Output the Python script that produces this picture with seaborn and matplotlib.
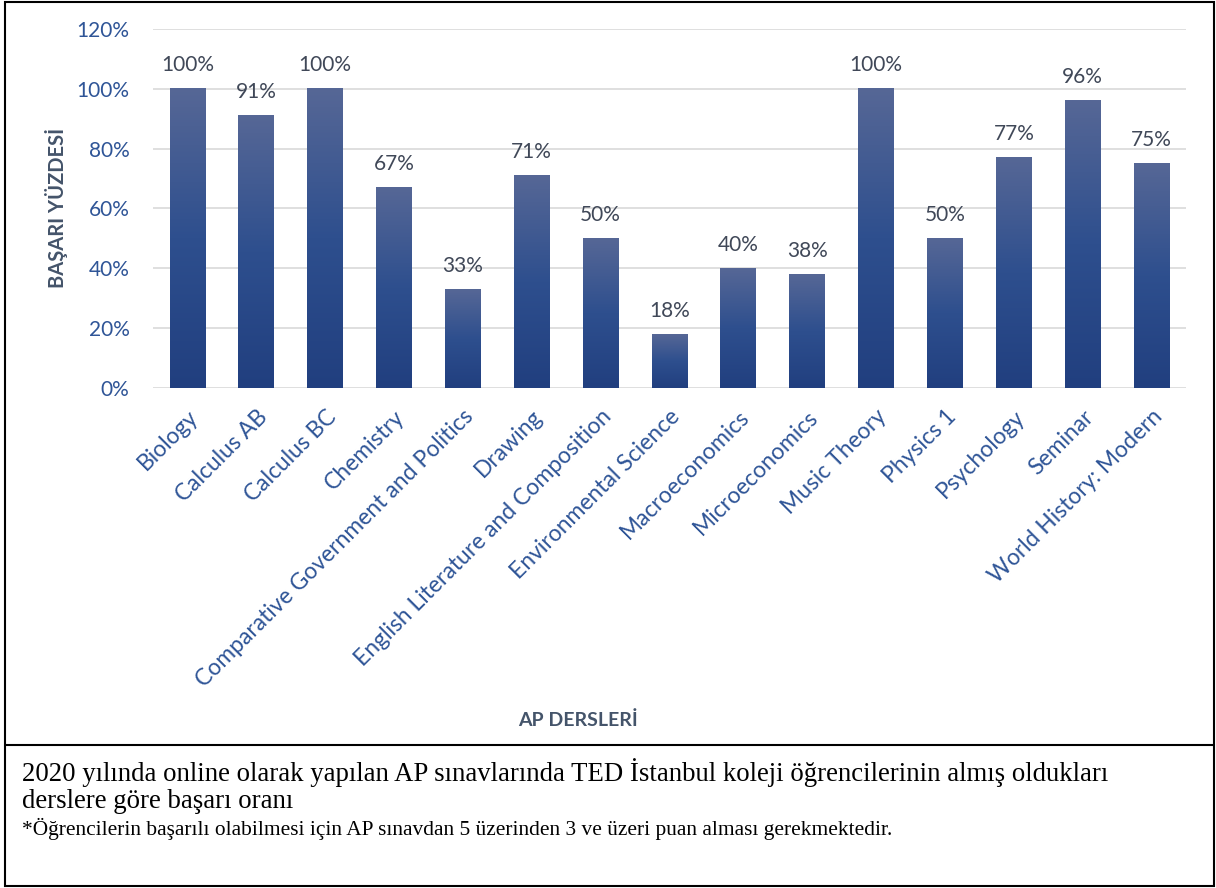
import numpy as np
import pandas as pd
import seaborn as sns
import matplotlib.pyplot as plt
from matplotlib.colors import LinearSegmentedColormap
from matplotlib.patches import Rectangle
from matplotlib.lines import Line2D

# veriler
dersler = ["Biology", "Calculus AB", "Calculus BC", "Chemistry",
           "Comparative Government and Politics", "Drawing",
           "English Literature and Composition", "Environmental Science",
           "Macroeconomics", "Microeconomics", "Music Theory", "Physics 1",
           "Psychology", "Seminar", "World History: Modern"]
basari = [100, 91, 100, 67, 33, 71, 50, 18, 40, 38, 100, 50, 77, 96, 75]
y_ticks = [0, 20, 40, 60, 80, 100, 120]

baslik_y = "BAŞARI YÜZDES\u0130"
baslik_x = "AP DERSLER\u0130"
aciklama1 = "2020 yılında online olarak yapılan AP sınavlarında TED İstanbul koleji öğrencilerinin almış oldukları"
aciklama2 = "derslere göre başarı oranı"
dipnot = "*Öğrencilerin başarılı olabilmesi için AP sınavdan 5 üzerinden 3 ve üzeri puan alması gerekmektedir."

df = pd.DataFrame({"ders": dersler, "basari": basari})

sns.set_theme(style="white")
plt.rcParams["font.family"] = ["Lato", "DejaVu Sans"]

mavi = "#2F5597"
gri = "#44546A"
etiket_renk = "#404858"

fig = plt.figure(figsize=(12.16, 8.88), dpi=100)
ax = fig.add_axes([153 / 1216, 1 - 388 / 888, (1186 - 153) / 1216, (388 - 29) / 888])

sns.barplot(data=df, x="ders", y="basari", color="#2B4C8C", width=0.52, ax=ax)

# her çubuğa yukarıdan aşağı renk geçişi
cmap = LinearSegmentedColormap.from_list("grad", ["#566796", "#2E4F8E", "#213F7F"])
grad = np.linspace(0, 1, 256).reshape(-1, 1)
for p in ax.patches:
    x0, w, h = p.get_x(), p.get_width(), p.get_height()
    ax.imshow(grad, cmap=cmap, aspect="auto", extent=[x0, x0 + w, 0, h],
              origin="upper", zorder=2, interpolation="bilinear")
    p.set_alpha(0)
    ax.text(x0 + w / 2, h + 4.5, f"{int(h)}%", ha="center", va="bottom",
            fontsize=15, color=etiket_renk, zorder=3)

ax.set_xlim(-0.5, len(dersler) - 0.5)
ax.set_ylim(0, 120)
ax.set_yticks(y_ticks)
ax.set_yticklabels([f"{v}%" for v in y_ticks], color=mavi, fontsize=15)
ax.yaxis.grid(True, color="#D9D9D9", linewidth=1.2)
ax.set_axisbelow(True)
for s in ax.spines.values():
    s.set_visible(False)
ax.tick_params(axis="both", length=0)
ax.tick_params(axis="y", pad=17)

ax.set_xticks(range(len(dersler)))
ax.set_xticklabels(dersler, rotation=45, ha="right", va="top",
                   rotation_mode="anchor", color=mavi, fontsize=16.5)
ax.tick_params(axis="x", pad=13)
ax.set_xlabel("")
ax.set_ylabel("")

fig.text(57 / 1216, 1 - 208 / 888, baslik_y, rotation=90, ha="center", va="center",
         fontsize=14.5, fontweight="bold", color=gri)
fig.text(578 / 1216, 1 - 720 / 888, baslik_x, ha="center", va="center",
         fontsize=14, fontweight="bold", color=gri)

# çerçeve ve ayırıcı çizgi
fig.patches.append(Rectangle((5 / 1216, 2 / 888), 1209 / 1216, 884 / 888,
                             transform=fig.transFigure, fill=False,
                             edgecolor="black", linewidth=1.5))
fig.lines.append(Line2D([5 / 1216, 1214 / 1216], [1 - 745 / 888, 1 - 745 / 888],
                        transform=fig.transFigure, color="black", linewidth=1.5))

serif = ["Liberation Serif", "DejaVu Serif"]
fig.text(22 / 1216, 1 - 773 / 888, aciklama1, ha="left", va="center",
         fontsize=19.3, family=serif, color="black")
fig.text(22 / 1216, 1 - 801 / 888, aciklama2, ha="left", va="center",
         fontsize=19.3, family=serif, color="black")
fig.text(22 / 1216, 1 - 829 / 888, dipnot, ha="left", va="center",
         fontsize=15.4, family=serif, color="black")

fig.savefig("out.png", dpi=100)
